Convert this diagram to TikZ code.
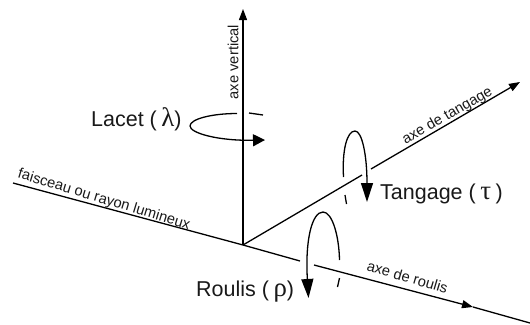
\documentclass[tikz,border=0pt]{standalone}
\usepackage{fontspec}
\setmainfont{Liberation Sans}
\newfontfamily\grk[Scale=1.25]{Liberation Serif}
\usetikzlibrary{arrows.meta}
\tikzset{
 ax/.style={line width=1.3pt},
 axarrow/.style={ax,-{Triangle[length=11pt,width=8pt]}},
 rot/.style={line width=1.3pt},
 rotarrow/.style={rot,-{Triangle[length=19pt,width=12pt]}},
 big/.style={font=\fontsize{21.5}{24}\selectfont,inner sep=0pt,anchor=base west,text=black!90},
 small/.style={font=\fontsize{14.7}{16}\selectfont,inner sep=0pt,text=black!90},
}
\begin{document}
\begin{tikzpicture}[x=1pt,y=-1pt]
\useasboundingbox (0,0) rectangle (530,324);
% axis points
\coordinate (O) at (243,245);
\coordinate (V) at (243,9);
\coordinate (T1) at (362,175);
\coordinate (T2) at (371,169);
\coordinate (TE) at (520,82);
\coordinate (B) at (13,183);
\coordinate (R1) at (300,261);
\coordinate (R2) at (314,265);
\coordinate (RM) at (473,307);
\coordinate (RE) at (530,323);
% axes
\draw[axarrow] (O) -- (V);
\draw[ax] (O) -- (T1);
\draw[axarrow] (T2) -- (TE);
\draw[ax] (B) -- (O) -- (R1);
\draw[axarrow] (R2) -- (RM);
\draw[ax] (RM) -- (RE);
% Lacet
\coordinate (La) at (237,113.5);
\coordinate (Lb) at (190,126);
\coordinate (Lc) at (265,140);
\coordinate (Ld) at (249,113);
\coordinate (Le) at (263,115);
\draw[rot,-{Triangle[length=12pt,width=12pt]}] (La) .. controls (212,113.5) and (190,119) .. (Lb)
  .. controls (190,133) and (218,141) .. (Lc);
\draw[rot] (Ld) -- (Le);
% Tangage
\coordinate (Ta) at (343.5,177);
\coordinate (Tb) at (355,131);
\coordinate (Tc) at (367,202);
\coordinate (Td) at (345,195);
\coordinate (Te) at (346.5,204);
\draw[rotarrow] (Ta) .. controls (342,150) and (347,131) .. (Tb)
  .. controls (362,131) and (367,155) .. (Tc);
\draw[rot] (Td) -- (Te);
% Roulis
\coordinate (Ra) at (339.5,260);
\coordinate (Rb) at (323,212);
\coordinate (Rc) at (308.5,298);
\coordinate (Rd) at (339.5,278);
\coordinate (Re) at (337.5,287);
\draw[rotarrow] (Ra) .. controls (339,235) and (332,212) .. (Rb)
  .. controls (312,212) and (305,240) .. (Rc);
\draw[rot] (Rd) -- (Re);
% labels
\node[big] (lacet) at (91,126) {Lacet ({\grk\,λ})};
\node[big] (tang) at (380,199) {Tangage ({\grk\,τ\,})};
\node[big] (roul) at (196,296) {Roulis ({\grk\,ρ})};
\node[small,rotate=90] (lv) at (233,62) {axe vertical};
\node[small,rotate=30] (lt) at (447.5,116) {axe de tangage};
\node[small,rotate=-16.8] (lf) at (104,200) {faisceau ou rayon lumineux};
\node[small,rotate=-16.5] (lr) at (407.5,277) {axe de roulis};
\end{tikzpicture}
\end{document}
